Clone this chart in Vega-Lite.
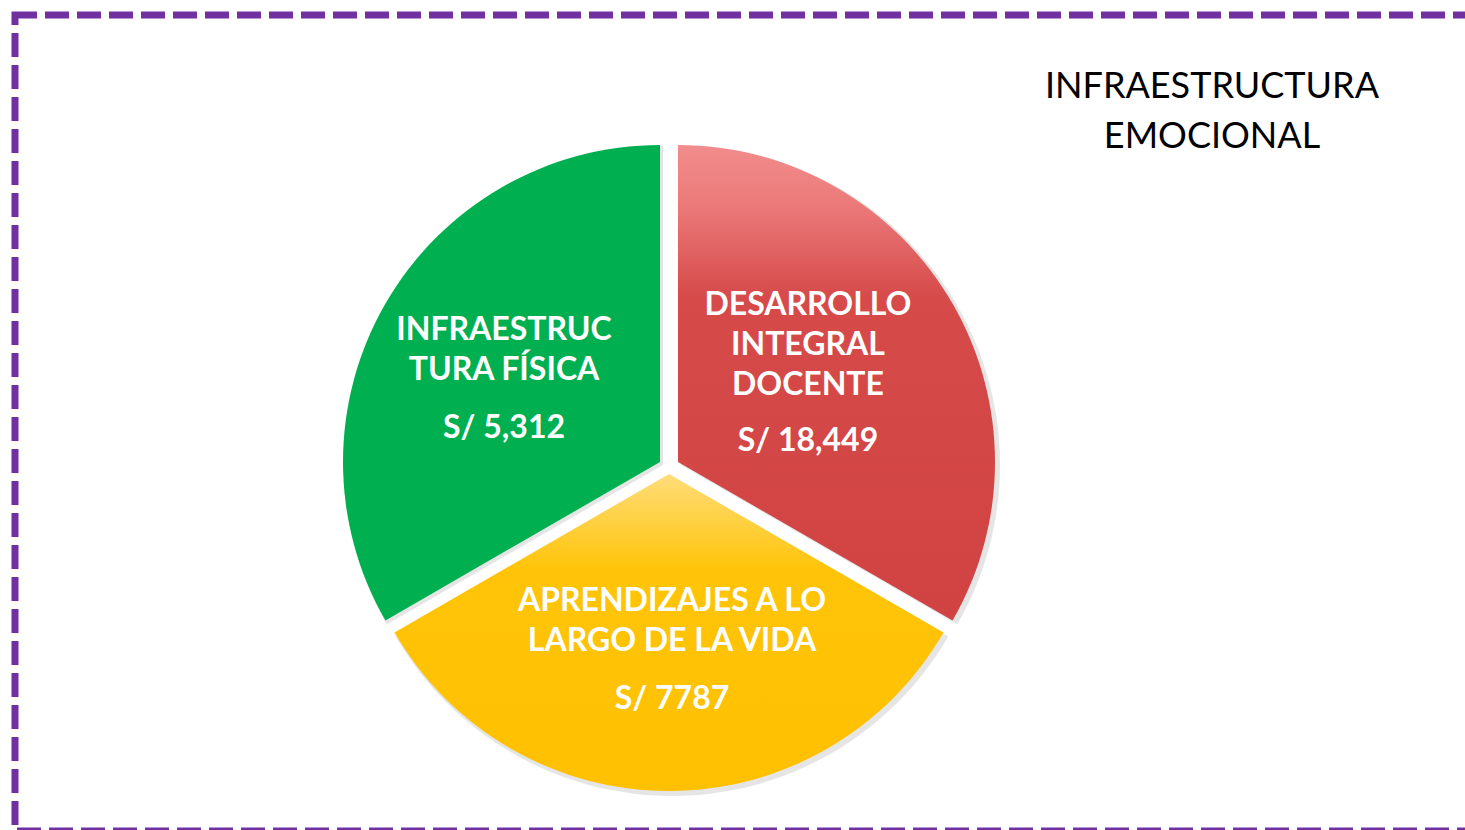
{
  "$schema": "https://vega.github.io/schema/vega-lite/v6.json",
  "autosize": {"type": "none"},
  "padding": {"left": 15, "top": 15, "right": -10, "bottom": -1},
  "width": 1460,
  "height": 816,
  "background": "white",
  "config": {"view": {"stroke": null}},
  "title": {
    "text": ["INFRAESTRUCTURA", "EMOCIONAL"],
    "orient": "top",
    "anchor": "middle",
    "frame": "group",
    "dx": 467,
    "offset": -144,
    "font": "Lato",
    "fontSize": 36,
    "fontWeight": "normal",
    "color": "#000000",
    "lineHeight": 50
  },
  "data": {
    "values": [
      {"categoria": "DESARROLLO INTEGRAL DOCENTE", "lineas": "DESARROLLO\nINTEGRAL\nDOCENTE", "monto": "S/ 18,449", "valor": 18449, "orden": 1},
      {"categoria": "APRENDIZAJES A LO LARGO DE LA VIDA", "lineas": "APRENDIZAJES A LO\nLARGO DE LA VIDA", "monto": "S/ 7787", "valor": 7787, "orden": 2},
      {"categoria": "INFRAESTRUCTURA FÍSICA", "lineas": "INFRAESTRUC\nTURA FÍSICA", "monto": "S/ 5,312", "valor": 5312, "orden": 3}
    ]
  },
  "layer": [
    {
      "data": {"values": [{"marco": "borde"}]},
      "mark": {"type": "rect", "filled": false, "stroke": "#7030A0", "strokeWidth": 7, "strokeDash": [24, 8], "strokeDashOffset": 2},
      "encoding": {}
    },
    {
      "mark": {"type": "arc", "radius": 319, "xOffset": -64, "yOffset": 42, "color": "#000000"},
      "encoding": {
        "theta": {"aggregate": "count", "type": "quantitative", "stack": true},
        "order": {"field": "orden", "type": "quantitative", "sort": "ascending"},
        "opacity": {"condition": {"test": "datum.orden === 1", "value": 0.1}, "value": 0}
      }
    },
    {
      "mark": {"type": "arc", "radius": 319, "xOffset": -73, "yOffset": 54, "color": "#000000"},
      "encoding": {
        "theta": {"aggregate": "count", "type": "quantitative", "stack": true},
        "order": {"field": "orden", "type": "quantitative", "sort": "ascending"},
        "opacity": {"condition": {"test": "datum.orden === 2", "value": 0.1}, "value": 0}
      }
    },
    {
      "mark": {"type": "arc", "radius": 319, "xOffset": -82, "yOffset": 42, "color": "#000000"},
      "encoding": {
        "theta": {"aggregate": "count", "type": "quantitative", "stack": true},
        "order": {"field": "orden", "type": "quantitative", "sort": "ascending"},
        "opacity": {"condition": {"test": "datum.orden === 3", "value": 0.1}, "value": 0}
      }
    },
    {
      "mark": {"type": "arc", "radius": 317, "xOffset": -67, "yOffset": 39,
        "color": {"gradient": "linear", "x1": 0, "y1": 0, "x2": 0, "y2": 1,
          "stops": [{"offset": 0, "color": "#F28C8C"}, {"offset": 0.12, "color": "#EC7B7B"}, {"offset": 0.32, "color": "#D64A4A"}, {"offset": 1, "color": "#D14343"}]}},
      "encoding": {
        "theta": {"aggregate": "count", "type": "quantitative", "stack": true},
        "order": {"field": "orden", "type": "quantitative", "sort": "ascending"},
        "opacity": {"condition": {"test": "datum.orden === 1", "value": 1}, "value": 0}
      }
    },
    {
      "mark": {"type": "arc", "radius": 317, "xOffset": -76, "yOffset": 51,
        "color": {"gradient": "linear", "x1": 0, "y1": 0, "x2": 0, "y2": 1,
          "stops": [{"offset": 0, "color": "#FFDD7A"}, {"offset": 0.3, "color": "#FFC409"}, {"offset": 1, "color": "#FFC000"}]}},
      "encoding": {
        "theta": {"aggregate": "count", "type": "quantitative", "stack": true},
        "order": {"field": "orden", "type": "quantitative", "sort": "ascending"},
        "opacity": {"condition": {"test": "datum.orden === 2", "value": 1}, "value": 0}
      }
    },
    {
      "mark": {"type": "arc", "radius": 317, "xOffset": -85, "yOffset": 39, "color": "#00B050"},
      "encoding": {
        "theta": {"aggregate": "count", "type": "quantitative", "stack": true},
        "order": {"field": "orden", "type": "quantitative", "sort": "ascending"},
        "opacity": {"condition": {"test": "datum.orden === 3", "value": 1}, "value": 0}
      }
    },
    {
      "mark": {"type": "text", "radius": 160, "xOffset": -75.6, "yOffset": -28, "font": "Lato", "fontWeight": "bold", "fontSize": 32, "color": "white", "lineBreak": "\n", "lineHeight": 40, "align": "center", "baseline": "alphabetic"},
      "encoding": {
        "theta": {"aggregate": "count", "type": "quantitative", "stack": true},
        "order": {"field": "orden", "type": "quantitative", "sort": "ascending"},
        "text": {"condition": {"test": "datum.orden === 1", "field": "lineas", "type": "nominal"}, "value": ""}
      }
    },
    {
      "mark": {"type": "text", "radius": 160, "xOffset": -75.6, "yOffset": 108, "font": "Lato", "fontWeight": "bold", "fontSize": 32, "color": "white", "align": "center", "baseline": "alphabetic"},
      "encoding": {
        "theta": {"aggregate": "count", "type": "quantitative", "stack": true},
        "order": {"field": "orden", "type": "quantitative", "sort": "ascending"},
        "text": {"condition": {"test": "datum.orden === 1", "field": "monto", "type": "nominal"}, "value": ""}
      }
    },
    {
      "mark": {"type": "text", "radius": 160, "xOffset": -73, "yOffset": 28, "font": "Lato", "fontWeight": "bold", "fontSize": 32, "color": "white", "lineBreak": "\n", "lineHeight": 40, "align": "center", "baseline": "alphabetic"},
      "encoding": {
        "theta": {"aggregate": "count", "type": "quantitative", "stack": true},
        "order": {"field": "orden", "type": "quantitative", "sort": "ascending"},
        "text": {"condition": {"test": "datum.orden === 2", "field": "lineas", "type": "nominal"}, "value": ""}
      }
    },
    {
      "mark": {"type": "text", "radius": 160, "xOffset": -73, "yOffset": 126, "font": "Lato", "fontWeight": "bold", "fontSize": 32, "color": "white", "align": "center", "baseline": "alphabetic"},
      "encoding": {
        "theta": {"aggregate": "count", "type": "quantitative", "stack": true},
        "order": {"field": "orden", "type": "quantitative", "sort": "ascending"},
        "text": {"condition": {"test": "datum.orden === 2", "field": "monto", "type": "nominal"}, "value": ""}
      }
    },
    {
      "mark": {"type": "text", "radius": 160, "xOffset": -102.4, "yOffset": -3, "font": "Lato", "fontWeight": "bold", "fontSize": 32, "color": "white", "lineBreak": "\n", "lineHeight": 40, "align": "center", "baseline": "alphabetic"},
      "encoding": {
        "theta": {"aggregate": "count", "type": "quantitative", "stack": true},
        "order": {"field": "orden", "type": "quantitative", "sort": "ascending"},
        "text": {"condition": {"test": "datum.orden === 3", "field": "lineas", "type": "nominal"}, "value": ""}
      }
    },
    {
      "mark": {"type": "text", "radius": 160, "xOffset": -102.4, "yOffset": 95, "font": "Lato", "fontWeight": "bold", "fontSize": 32, "color": "white", "align": "center", "baseline": "alphabetic"},
      "encoding": {
        "theta": {"aggregate": "count", "type": "quantitative", "stack": true},
        "order": {"field": "orden", "type": "quantitative", "sort": "ascending"},
        "text": {"condition": {"test": "datum.orden === 3", "field": "monto", "type": "nominal"}, "value": ""}
      }
    }
  ]
}
